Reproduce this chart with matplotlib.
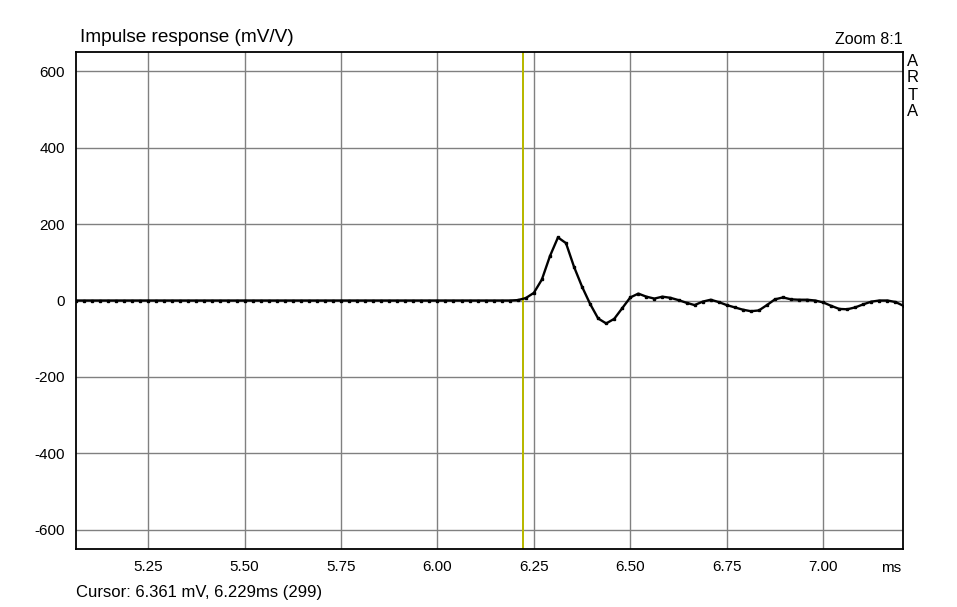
import matplotlib
matplotlib.use("Agg")
import matplotlib.pyplot as plt

# sample numbers (48 kHz) and impulse response values in mV/V
sample_index = list(range(243, 347))
response_mv = [
    0, 0, 0, 0, 0, 0, 0, 0, 0, 0,          # 243-252
    0, 0, 0, 0, 0, 0, 0, 0, 0, 0,          # 253-262
    0, 0, 0, 0, 0, 0, 0, 0, 0, 0,          # 263-272
    0, 0, 0, 0, 0, 0, 0, 0, 0, 0,          # 273-282
    0, 0, 0, 0, 0, 0, 0, 0, 0, 0,          # 283-292
    0, 0, 0, 0, 0, 1, 6.361,               # 293-299
    20, 55, 116, 165, 150, 88, 36, -9, -47, -60,   # 300-309
    -48, -20, 8, 18, 10, 5, 10, 7, 1, -6,          # 310-319
    -12, -3, 2, -4, -12, -18, -24, -28, -26, -12,  # 320-329
    3, 8, 3, 2, 2, 0, -5, -14, -22, -23,           # 330-339
    -18, -10, -3, 0, 0, -4, -14,                   # 340-346
]
sample_rate_khz = 48.0
cursor_ms = 6.229

x_ticks = [5.25, 5.50, 5.75, 6.00, 6.25, 6.50, 6.75, 7.00]
y_ticks = [-600, -400, -200, 0, 200, 400, 600]

time_ms = [n / sample_rate_khz for n in sample_index]

plt.rcParams['font.family'] = ['Liberation Sans', 'DejaVu Sans']

fig = plt.figure(figsize=(9.57, 6.07), dpi=100)
ax = fig.add_axes([76 / 957, 1 - 549 / 607, 827 / 957, 497 / 607])

ax.set_xlim(5.063, 7.207)
ax.set_ylim(-650, 650)
ax.set_xticks(x_ticks)
ax.set_xticklabels([f"{t:.2f}" for t in x_ticks])
ax.set_yticks(y_ticks)
ax.set_yticklabels([str(v) for v in y_ticks])
ax.tick_params(length=0, labelsize=11, colors='black')
ax.tick_params(axis='x', pad=8)
ax.tick_params(axis='y', pad=8)
ax.grid(True, color='#808080', linewidth=1.0)
ax.set_axisbelow(True)
for sp in ax.spines.values():
    sp.set_linewidth(1.3)
    sp.set_color('black')

ax.axvline(cursor_ms - 0.006, color='#b8b800', linewidth=1.3, zorder=2,
           antialiased=False)
ax.plot(time_ms, response_mv, color='black', linewidth=1.7,
        marker='s', markersize=1.5, zorder=3)

fig.text(80 / 957, 1 - 38 / 607, "Impulse response (mV/V)", fontsize=13.7,
         ha='left', va='center')
fig.text(903 / 957, 1 - 40 / 607, "Zoom 8:1", fontsize=11.5,
         ha='right', va='center')
for i, ch in enumerate("ARTA"):
    fig.text(913 / 957, 1 - (61 + i * 17) / 607, ch, fontsize=12,
             ha='center', va='center')
fig.text(891 / 957, 1 - 568 / 607, "ms", fontsize=11, ha='center', va='center')
fig.text(76 / 957, 1 - 592 / 607, "Cursor: 6.361 mV, 6.229ms (299)",
         fontsize=12, ha='left', va='center')

fig.savefig("out.png", dpi=100)
